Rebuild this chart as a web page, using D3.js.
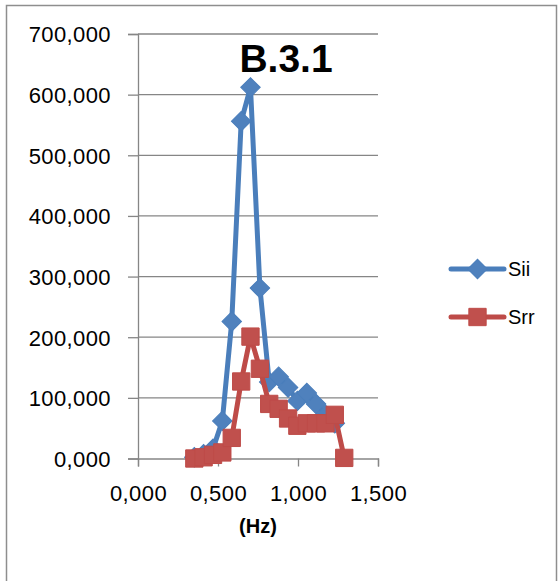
<!DOCTYPE html>
<html>
<head>
<meta charset="utf-8">
<script src="https://cdn.jsdelivr.net/npm/d3@7"></script>
<style>
  html, body { margin: 0; padding: 0; background: #fff; }
  svg { display: block; font-family: "Liberation Sans", Arial, sans-serif; }
</style>
</head>
<body>
<svg id="chart" width="560" height="581"></svg>
<script>
// Frequency (Hz) of each spectral estimate
const freq = [0.352, 0.410, 0.469, 0.527, 0.586, 0.645, 0.703, 0.762, 0.820,
              0.879, 0.938, 0.996, 1.055, 1.113, 1.172, 1.230, 1.289];
// Spectral densities
const sii = [2, 7, 16, 62, 226, 556, 612, 281, 126, 135, 117, 95, 108, 90, 72, 58];
const srr = [0, 2, 6, 10, 34, 127, 201, 148, 90, 82, 66, 54, 58, 58, 58, 72, 1];
const seriesNames = ["Sii", "Srr"];
const xTicks = [0, 0.5, 1.0, 1.5];
const yTicks = [0, 100, 200, 300, 400, 500, 600, 700];
const chartTitle = "B.3.1";
const xTitle = "(Hz)";

const colors = { Sii: { line: "#4A7EBB", fill: "#4F81BD" },
                 Srr: { line: "#BE4B48", fill: "#C0504D" } };

const svg = d3.select("#chart");
const plot = { left: 138, right: 378, top: 34, bottom: 458.5 };

// chart frame
svg.append("rect")
  .attr("x", 6.5).attr("y", 5.5).attr("width", 550).attr("height", 600)
  .attr("fill", "#fff").attr("stroke", "#8e8e8e").attr("stroke-width", 1.5);

const x = d3.scaleLinear().domain([0, 1.5]).range([plot.left, plot.right]);
const y = d3.scaleLinear().domain([0, 700]).range([plot.bottom, plot.top]);

// horizontal gridlines
svg.append("g").selectAll("line").data(yTicks.filter(d => d > 0)).join("line")
  .attr("x1", plot.left).attr("x2", plot.right)
  .attr("y1", d => y(d)).attr("y2", d => y(d))
  .attr("stroke", "#868686").attr("stroke-width", 1.3);

// y axis
const yAxis = svg.append("g").attr("transform", `translate(${plot.left},0)`)
  .call(d3.axisLeft(y).tickValues(yTicks).tickSize(10).tickPadding(17)
    .tickFormat(d => (d === 0 ? "0,000" : d + ",000")));
yAxis.select(".domain").attr("stroke", "#868686").attr("stroke-width", 1.3);
yAxis.selectAll(".tick line").attr("stroke", "#868686").attr("stroke-width", 1.3);
yAxis.selectAll("text").attr("font-size", 22).attr("fill", "#000")
  .attr("letter-spacing", 0.4)
  .attr("font-family", "Liberation Sans, Arial, sans-serif").attr("dy", "0.36em");

// x axis
const xAxis = svg.append("g").attr("transform", `translate(0,${plot.bottom})`)
  .call(d3.axisBottom(x).tickValues(xTicks).tickSize(8).tickPadding(19)
    .tickFormat(d => d3.format(".3f")(d).replace(".", ",")));
xAxis.select(".domain").attr("stroke", "#868686").attr("stroke-width", 1.3);
xAxis.selectAll(".tick line").attr("stroke", "#868686").attr("stroke-width", 1.3);
xAxis.selectAll("text").attr("font-size", 22).attr("fill", "#000")
  .attr("letter-spacing", 0.4)
  .attr("font-family", "Liberation Sans, Arial, sans-serif");

// series
const data = {
  Sii: sii.map((v, i) => [freq[i], v]),
  Srr: srr.map((v, i) => [freq[i], v])
};
const line = d3.line().x(d => x(d[0])).y(d => y(d[1]));
const diamond = d3.symbol().type(d3.symbolSquare).size(190);
const square = d3.symbol().type(d3.symbolSquare).size(300);

seriesNames.forEach(name => {
  const g = svg.append("g");
  g.append("path").datum(data[name]).attr("d", line)
    .attr("fill", "none").attr("stroke", colors[name].line)
    .attr("stroke-width", 5).attr("stroke-linejoin", "round").attr("stroke-linecap", "round");
  g.selectAll("path.m").data(data[name]).join("path").attr("class", "m")
    .attr("d", name === "Sii" ? diamond : square)
    .attr("transform", d => `translate(${x(d[0])},${y(d[1])})` + (name === "Sii" ? " rotate(45)" : ""))
    .attr("fill", colors[name].fill).attr("stroke", colors[name].line).attr("stroke-width", 1);
});

// legend
const legendY = [269, 317];
seriesNames.forEach((name, i) => {
  const g = svg.append("g").attr("transform", `translate(0,${legendY[i]})`);
  g.append("line").attr("x1", 451).attr("x2", 504).attr("y1", 0).attr("y2", 0)
    .attr("stroke", colors[name].line).attr("stroke-width", 5).attr("stroke-linecap", "round");
  g.append("path").attr("d", name === "Sii" ? diamond : square)
    .attr("transform", `translate(477.5,0)` + (name === "Sii" ? " rotate(45)" : ""))
    .attr("fill", colors[name].fill).attr("stroke", colors[name].line).attr("stroke-width", 1);
  g.append("text").attr("x", 508).attr("y", 7).attr("font-size", 20).attr("fill", "#000").text(name);
});

// titles
svg.append("text").attr("x", 286).attr("y", 72).attr("text-anchor", "middle")
  .attr("font-size", 39).attr("font-weight", "bold").attr("fill", "#000").text(chartTitle);
svg.append("text").attr("x", 258).attr("y", 533).attr("text-anchor", "middle")
  .attr("font-size", 20).attr("font-weight", "bold").attr("fill", "#000").text(xTitle);
</script>
</body>
</html>
